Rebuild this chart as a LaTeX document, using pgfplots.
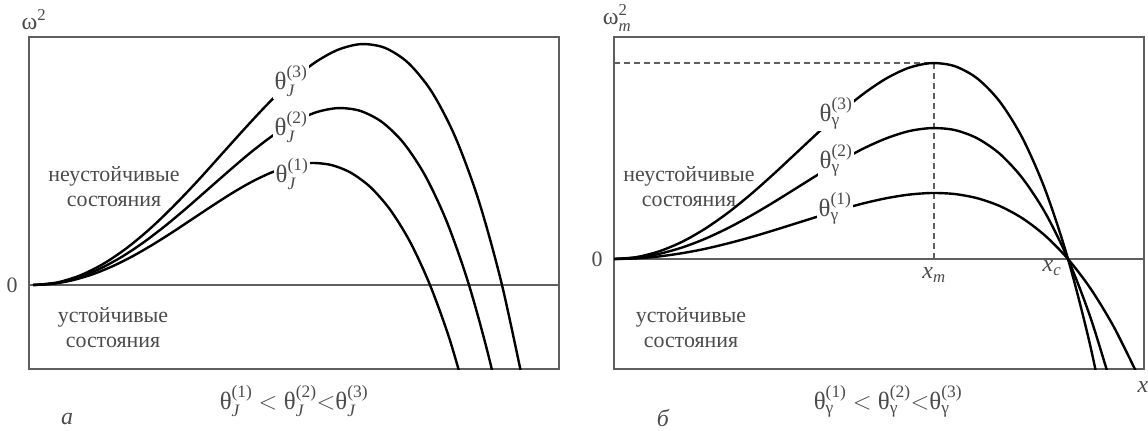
\documentclass[border=0pt]{standalone}
\usepackage{fontspec}
\setmainfont{Liberation Serif}
\usepackage{amsmath}
\usepackage{pgfplots}
\pgfplotsset{compat=1.18}
\definecolor{txt}{RGB}{75,75,75}
\definecolor{frame}{RGB}{95,95,95}
\newcommand{\thJ}[1]{θ$^{\text{(#1)}}_{\text{\itshape J}}$}
\newcommand{\thG}[1]{θ$^{\text{(#1)}}_{\text{γ}}$}
\begin{document}
\begin{tikzpicture}[every node/.style={font=\fontsize{22}{25}\selectfont, text=txt}]
\useasboundingbox (0bp,0bp) rectangle (1148bp,-431bp);
% ---------------- left panel ----------------
\begin{axis}[at={(29bp,-369bp)}, anchor=south west, width=530bp, height=332bp,
  scale only axis, xmin=0, xmax=530, ymin=-84, ymax=248, ticks=none,
  axis line style={frame, line width=1.5bp}]
\addplot[frame, line width=1.5bp] coordinates {(0,0) (530,0)};
\addplot[black, line width=2.4bp, smooth] coordinates {(4,0)(27.5,2.4)(50.9,9.5)(74.4,21.2)(97.8,37.0)(121.3,56.5)(144.7,79.0)(168.2,103.6)(191.6,129.6)(215.1,155.7)(238.5,180.8)(262.0,203.4)(285.4,222.1)(308.9,235.2)(332.3,240.9)(355.8,237.2)(379.2,222.1)(402.7,193.3)(426.1,148.4)(449.6,84.8)(473,0)(496.5,-108.9)};
\addplot[black, line width=2.4bp, smooth] coordinates {(4,0)(25.8,1.8)(47.6,7.0)(69.4,15.6)(91.2,27.2)(113.0,41.5)(134.8,58.0)(156.6,76.1)(178.4,95.2)(200.2,114.3)(222.0,132.8)(243.8,149.4)(265.6,163.1)(287.4,172.8)(309.2,176.9)(331.0,174.2)(352.8,163.1)(374.6,142.0)(396.4,109.0)(418.2,62.3)(440,0)(461.8,-80.0)(483.6,-179.9)};
\addplot[black, line width=2.4bp, smooth] coordinates {(4,0)(23.9,1.2)(43.7,4.8)(63.6,10.7)(83.4,18.7)(103.3,28.6)(123.1,40.0)(143.0,52.5)(162.8,65.6)(182.7,78.8)(202.5,91.5)(222.4,103.0)(242.2,112.4)(262.1,119.1)(281.9,122.0)(301.8,120.1)(321.6,112.4)(341.5,97.8)(361.3,75.1)(381.2,42.9)(401,0)(420.9,-55.1)(440.7,-124.0)};
\node[fill=white, inner sep=2bp, font=\fontsize{25}{28}\selectfont] at (axis cs:262,204) {\thJ{3}};
\node[fill=white, inner sep=2bp, font=\fontsize{25}{28}\selectfont] at (axis cs:262,158) {\thJ{2}};
\node[fill=white, inner sep=2bp, font=\fontsize{25}{28}\selectfont] at (axis cs:263,111) {\thJ{1}};
\end{axis}
% ---------------- right panel ----------------
\begin{axis}[at={(614bp,-369bp)}, anchor=south west, width=530bp, height=332bp,
  scale only axis, xmin=0, xmax=530, ymin=-110, ymax=222, ticks=none,
  axis line style={frame, line width=1.5bp}]
\addplot[frame, line width=1.5bp] coordinates {(0,0) (530,0)};
\addplot[frame, line width=1.5bp, dash pattern=on 6bp off 4bp] coordinates {(0,196) (320,196)};
\addplot[frame, line width=1.5bp, dash pattern=on 6bp off 4bp] coordinates {(320,196) (320,0)};
\addplot[black, line width=2.4bp, smooth] coordinates {(0,0)(22.7,1.96)(45.4,7.76)(68.1,17.2)(90.8,30.1)(113.5,45.9)(136.2,64.2)(158.9,84.3)(181.6,105.4)(204.3,126.6)(227,147.0)(249.7,165.4)(272.4,180.6)(295.1,191.3)(317.8,195.9)(340.5,192.9)(363.2,180.6)(385.9,157.2)(408.6,120.7)(431.3,69.0)(454,0)(476.7,-88.6)(499.4,-199.2)};
\addplot[black, line width=2.4bp, smooth] coordinates {(0,0)(22.7,1.31)(45.4,5.19)(68.1,11.5)(90.8,20.1)(113.5,30.7)(136.2,42.9)(158.9,56.3)(181.6,70.4)(204.3,84.6)(227,98.3)(249.7,110.6)(272.4,120.7)(295.1,127.9)(317.8,130.9)(340.5,129.0)(363.2,120.7)(385.9,105.1)(408.6,80.6)(431.3,46.1)(454,0)(476.7,-59.2)(499.4,-133.1)};
\addplot[black, line width=2.4bp, smooth] coordinates {(0,0)(22.7,0.66)(45.4,2.61)(68.1,5.81)(90.8,10.1)(113.5,15.5)(136.2,21.6)(158.9,28.4)(181.6,35.5)(204.3,42.6)(227,49.5)(249.7,55.7)(272.4,60.8)(295.1,64.4)(317.8,66.0)(340.5,65.0)(363.2,60.8)(385.9,52.9)(408.6,40.6)(431.3,23.2)(454,0)(476.7,-29.8)(499.4,-67.1)(522.1,-112.6)};
\node[fill=white, inner sep=2bp, font=\fontsize{25}{28}\selectfont] at (axis cs:222,146) {\thG{3}};
\node[fill=white, inner sep=2bp, font=\fontsize{25}{28}\selectfont] at (axis cs:222,99) {\thG{2}};
\node[fill=white, inner sep=2bp, font=\fontsize{25}{28}\selectfont] at (axis cs:221,51) {\thG{1}};
\end{axis}
% ---------------- texts ----------------
\node[font=\fontsize{24}{27}\selectfont] at (34bp,-20bp) {ω$^{\text{2}}$};
\node[font=\fontsize{24}{27}\selectfont] at (617bp,-18bp) {ω$^{\text{2}}_{\text{\itshape m}}$};
\node at (12bp,-285bp) {0};
\node at (597bp,-259bp) {0};
\node[align=center] at (114bp,-187bp) {неустойчивые\\состояния};
\node[align=center] at (113bp,-328bp) {устойчивые\\состояния};
\node[align=center] at (689bp,-187bp) {неустойчивые\\состояния};
\node[align=center] at (691bp,-328bp) {устойчивые\\состояния};
\node[font=\fontsize{25}{28}\selectfont] at (294bp,-401bp) {\thJ{1} $<$ \thJ{2}$<$\thJ{3}};
\node[font=\fontsize{25}{28}\selectfont] at (888bp,-401bp) {\thG{1} $<$ \thG{2}$<$\thG{3}};
\node[font=\fontsize{24}{27}\selectfont] at (67bp,-419bp) {\itshape а};
\node[font=\fontsize{24}{27}\selectfont] at (663bp,-418bp) {\itshape б};
\node[font=\fontsize{24}{27}\selectfont] at (934bp,-275bp) {$\text{\itshape x}_{\text{\itshape m}}$};
\node[font=\fontsize{24}{27}\selectfont] at (1052bp,-268bp) {$\text{\itshape x}_{\text{\itshape c}}$};
\node[font=\fontsize{24}{27}\selectfont] at (1143bp,-387bp) {\itshape x};
\end{tikzpicture}
\end{document}
